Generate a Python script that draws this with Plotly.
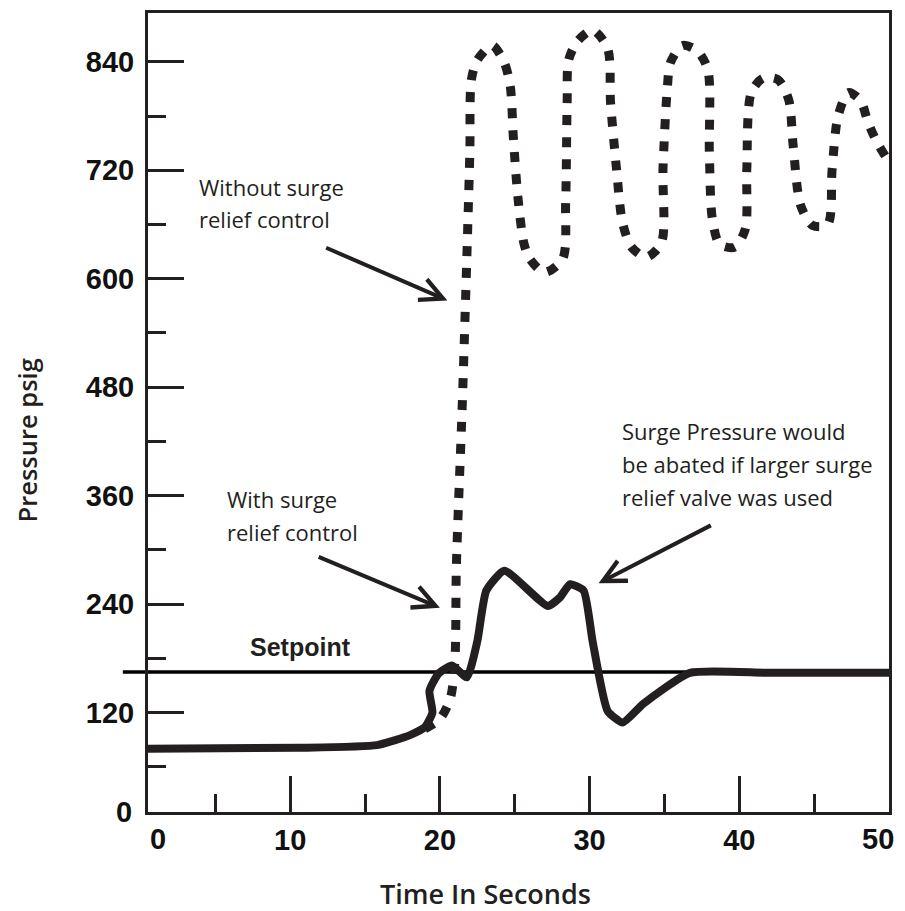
import plotly.graph_objects as go

# ---- data ----
time_with = [0.5, 10.6, 15.8, 18.0, 19.0, 19.5, 19.3, 19.9, 20.8, 21.8, 22.5, 23.1, 24.3,
             27.2, 28.0, 28.7, 29.6, 30.2, 31.2, 32.2, 33.6, 36.7, 42.0, 50.0]
pressure_with = [80, 81, 84, 95, 104, 120, 144, 163, 172, 159, 199, 255, 277,
                 238, 247, 262, 255, 199, 122, 109, 130, 164, 164, 164]

time_without = [19.0, 20.0, 20.7, 21.0, 21.1, 21.5, 21.8, 22.0, 22.1, 22.5, 23.5, 24.3, 24.7,
                24.9, 25.2, 25.6, 26.0, 27.0, 28.2, 28.4, 28.5, 28.6, 29.2, 30.2, 31.2,
                31.4, 31.8, 32.2, 32.8, 33.8, 34.8, 34.9, 35.2, 35.4, 36.2, 37.2, 37.9,
                38.0, 38.2, 38.7, 39.7, 40.4, 40.5, 40.8, 41.6, 42.6, 43.3, 43.6, 44.1,
                44.9, 45.9, 46.2, 46.6, 47.3, 48.1, 48.6, 49.2, 50.0]
pressure_without = [102, 113, 136, 177, 282, 464, 624, 740, 820, 842, 858, 839, 813,
                    758, 692, 640, 622, 607, 622, 684, 795, 842, 863, 875, 855,
                    795, 721, 662, 635, 624, 640, 721, 813, 839, 858, 852, 831,
                    740, 666, 638, 635, 655, 721, 806, 822, 820, 798, 747, 681,
                    659, 660, 721, 780, 806, 797, 773, 751, 729]

SETPOINT = 165

x_major = [10, 20, 30, 40, 50]
x_major_text = ["10", "20", "30", "40", "50"]
y_major = [120, 240, 360, 480, 600, 720, 840]
y_major_text = ["120", "240", "360", "480", "600", "720", "840"]

# arrow (tip, tail) pairs in data units
arrow_tip_x = [20.5, 20.0, 30.6]
arrow_tip_y = [576, 236, 263]
arrow_tail_x = [12.3, 11.8, 38.2]
arrow_tail_y = [635, 293, 328]

label_without = ["Without surge", "relief control"]
label_with = ["With surge", "relief control"]
label_surge = ["Surge Pressure would", "be abated if larger surge", "relief valve was used"]

INK = "#231f20"
TICKFONT = dict(family="Liberation Sans, Arial, sans-serif",
                size=29, color="#111111", weight="bold")
NOTEFONT = dict(family="Open Sans, Noto Sans, sans-serif", size=22, color=INK)
YTITLEFONT = dict(family="Open Sans, Noto Sans, sans-serif", size=25.5, color=INK, weight=600)
XTITLEFONT = dict(family="Open Sans, Noto Sans, sans-serif", size=27, color=INK, weight=600)

fig = go.Figure()

fig.add_trace(go.Scatter(
    x=time_without, y=pressure_without, mode="lines",
    line=dict(color=INK, width=9, dash="10px,12px", shape="spline", smoothing=0.8),
    showlegend=False, hoverinfo="skip"))

fig.add_trace(go.Scatter(
    x=time_with, y=pressure_with, mode="lines",
    line=dict(color=INK, width=8, shape="spline", smoothing=0.5),
    showlegend=False, hoverinfo="skip"))

# setpoint line
fig.add_shape(type="line", xref="paper", yref="y", x0=-0.034, x1=1, y0=SETPOINT, y1=SETPOINT,
              line=dict(color="#000000", width=3.5), layer="below")

annotations = []
for tx, ty, ax, ay in zip(arrow_tip_x, arrow_tip_y, arrow_tail_x, arrow_tail_y):
    annotations.append(dict(x=tx, y=ty, ax=ax, ay=ay, xref="x", yref="y", axref="x", ayref="y",
                            text="", showarrow=True, arrowhead=5, arrowsize=1.1, arrowwidth=4,
                            arrowcolor=INK, standoff=0, startstandoff=0))


def add_lines(lines, x_data, y_top, spacing):
    for i, t in enumerate(lines):
        annotations.append(dict(x=x_data, y=y_top - i * spacing, xref="x", yref="y", text=t,
                                showarrow=False, xanchor="left", yanchor="middle", font=NOTEFONT))


add_lines(label_without, 3.8, 702, 36)
add_lines(label_with, 5.67, 356, 36)
add_lines(label_surge, 32.0, 431, 36)

annotations.append(dict(x=10.67, y=193, xref="x", yref="y", text="Setpoint", showarrow=False,
                        xanchor="center", yanchor="middle",
                        font=dict(family="Liberation Sans, Arial, sans-serif", size=25,
                                  color=INK, weight="bold")))

# "0" labels at the axis corners, and the last x label kept inside the page
annotations.append(dict(x=0, y=0, xref="paper", yref="paper", text="0", showarrow=False,
                        xanchor="right", yanchor="middle", xshift=-14, font=TICKFONT))
annotations.append(dict(x=0, y=0, xref="paper", yref="paper", text="0", showarrow=False,
                        xanchor="left", yanchor="top", yshift=-9, font=TICKFONT))
annotations.append(dict(x=x_major[-1], y=0, xref="x", yref="paper", text=x_major_text[-1],
                        showarrow=False, xanchor="right", yanchor="top", xshift=7, yshift=-9,
                        font=TICKFONT))

# axis titles
annotations.append(dict(x=-0.162, y=0.465, xref="paper", yref="paper", text="Pressure psig",
                        showarrow=False, textangle=-90, xanchor="center", yanchor="middle",
                        font=YTITLEFONT))
annotations.append(dict(x=0.456, y=-0.1015, xref="paper", yref="paper", text="Time In Seconds",
                        showarrow=False, xanchor="center", yanchor="middle", font=XTITLEFONT))

fig.update_layout(
    width=905, height=903,
    margin=dict(l=140, r=24, t=2, b=99),
    paper_bgcolor="white", plot_bgcolor="white",
    annotations=annotations,
    showlegend=False,
)

axis_common = dict(showgrid=False, zeroline=False, showline=True, mirror=True,
                   linecolor=INK, linewidth=3, ticks="inside", ticklen=36, tickwidth=3,
                   tickcolor=INK, tickfont=TICKFONT)

fig.update_xaxes(range=[0.5, 50], tickmode="array", tickvals=x_major[:-1], ticktext=x_major_text[:-1],
                 minor=dict(ticks="inside", ticklen=18, tickwidth=3, tickcolor=INK,
                            tickmode="linear", tick0=5, dtick=10, showgrid=False),
                 ticklabelstandoff=0, **axis_common)
fig.update_yaxes(range=[10, 894], tickmode="array", tickvals=y_major, ticktext=y_major_text,
                 minor=dict(ticks="inside", ticklen=18, tickwidth=3, tickcolor=INK,
                            tickmode="linear", tick0=60, dtick=120, showgrid=False),
                 ticklabelstandoff=5, **axis_common)

fig.write_html("out.html")
